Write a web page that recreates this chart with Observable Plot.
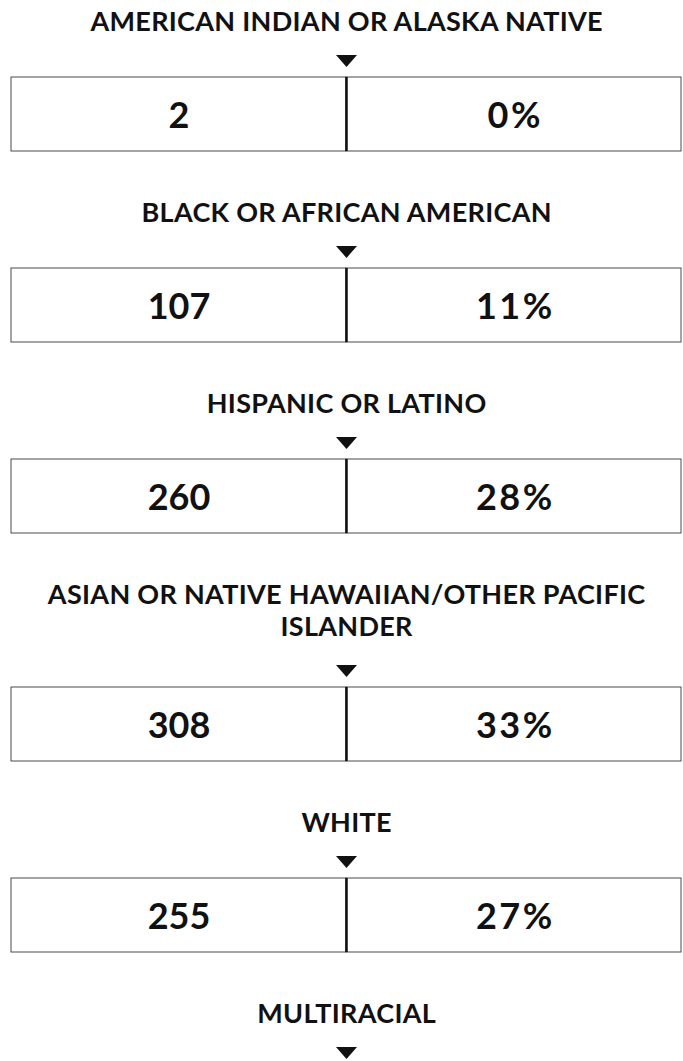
<!DOCTYPE html>
<html>
<head>
<meta charset="utf-8">
<script src="https://cdn.jsdelivr.net/npm/d3@7"></script>
<script src="https://cdn.jsdelivr.net/npm/@observablehq/plot@0.6"></script>
<style>
  html, body { margin: 0; padding: 0; background: #ffffff; }
  #chart svg { display: block; }
</style>
</head>
<body>
<div id="chart"></div>
<script>
// ---- Data ----
const categories = [
  "AMERICAN INDIAN OR ALASKA NATIVE",
  "BLACK OR AFRICAN AMERICAN",
  "HISPANIC OR LATINO",
  "ASIAN OR NATIVE HAWAIIAN/OTHER PACIFIC\nISLANDER",
  "WHITE",
  "MULTIRACIAL"
];
const counts   = [2, 107, 260, 308, 255, null];   // last row cut off in the reference
const percents = [0, 11, 28, 33, 27, null];

// ---- Layout (derived) ----
const W = 683, H = 1061;
const LINE = 32;        // title line spacing (px)
const EXTRA = 37;       // extra row height per additional title line
let rowStart = 0;
const rows = categories.map((label, i) => {
  const lines = label.split("\n").length;
  const extra = (lines - 1) * EXTRA;
  const r = {
    label,
    count: counts[i],
    pct: percents[i],
    titleY: rowStart + 20.5 + (lines - 1) * LINE / 2,
    arrowY: rowStart + 60.5 + extra,
    boxTop: rowStart + 77 + extra,
    boxBottom: rowStart + 77 + extra + 74
  };
  rowStart += 191 + extra;
  return r;
});
const boxes = rows.filter(r => r.count != null);
const countCells = boxes.map(r => ({x1: 0, x2: 1, top: r.boxTop, bottom: r.boxBottom, mid: (r.boxTop + r.boxBottom) / 2 + 2, text: String(r.count)}));
const pctCells = boxes.map(r => ({x1: 1, x2: 2, top: r.boxTop, bottom: r.boxBottom, mid: (r.boxTop + r.boxBottom) / 2 + 2, text: r.pct + "%"}));
const cells = countCells.concat(pctCells);

// downward-pointing flat triangle symbol
const arrowSymbol = {
  draw(context, size) {
    const r = Math.sqrt(size / Math.PI);
    const h = r * 0.56;
    context.moveTo(-r, -h);
    context.lineTo(r, -h);
    context.lineTo(0, h);
    context.closePath();
  }
};

const chart = Plot.plot({
  width: W,
  height: H,
  margin: 0,
  style: {background: "#ffffff", fontFamily: "Lato, 'Open Sans', sans-serif", color: "#111"},
  x: {domain: [0, 2], range: [11, 681], axis: null},
  y: {domain: [0, H], range: [0, H], axis: null},
  marks: [
    Plot.rect(cells, {x1: "x1", x2: "x2", y1: "top", y2: "bottom", fill: "#ffffff", stroke: "#4a4a4a", strokeWidth: 1}),
    Plot.ruleX(boxes, {x: () => 1, y1: "boxTop", y2: "boxBottom", stroke: "#111", strokeWidth: 2.5}),
    Plot.text(countCells, {x: d => d.x1 + 0.5, y: "mid", text: "text", fontSize: 36, fontWeight: 700, fill: "#111"}),
    Plot.text(pctCells, {x: d => d.x1 + 0.5, y: "mid", text: "text", fontSize: 36, fontWeight: 700, fill: "#111", dx: 1.25}),
    Plot.text(rows, {x: () => 1, y: "titleY", text: "label", fontSize: 27, fontWeight: 700, fill: "#111", lineHeight: LINE / 27, dx: 0.15}),
    Plot.dot(rows, {x: () => 1, y: "arrowY", symbol: arrowSymbol, r: 10.5, fill: "#111", stroke: "none"})
  ]
});
// letter spacing for the percent and title labels (text groups in mark order)
const textGroups = d3.select(chart).selectAll('g[aria-label="text"]').nodes();
if (textGroups[1]) d3.select(textGroups[1]).style("letter-spacing", "2.5px");
if (textGroups[2]) d3.select(textGroups[2]).style("letter-spacing", "0.3px");
document.getElementById("chart").append(chart);
</script>
</body>
</html>
